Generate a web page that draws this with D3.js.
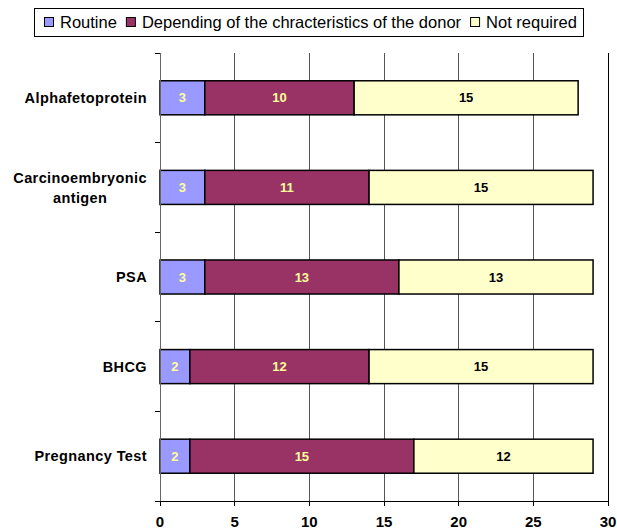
<!DOCTYPE html>
<html><head><meta charset="utf-8">
<script src="https://cdn.jsdelivr.net/npm/d3@7"></script>
<style>body{margin:0;background:#fff}svg{display:block}text{font-family:"Liberation Sans",Arial,sans-serif}</style>
</head><body><svg id="c" width="617" height="530"></svg>
<script>
const categories = ["Alphafetoprotein", "Carcinoembryonic antigen", "PSA", "BHCG", "Pregnancy Test"];
const seriesNames = ["Routine", "Depending of the chracteristics of the donor", "Not required"];
const routine = [3, 3, 3, 2, 2];
const depending = [10, 11, 13, 12, 15];
const notRequired = [15, 15, 13, 15, 12];
const xTicks = [0, 5, 10, 15, 20, 25, 30];
const colors = ["#9999FF", "#993366", "#FFFFCC"];
const labelColors = ["#FFFF99", "#FFFF99", "#000000"];

(function () {
const svg = d3.select("#c");
const pL = 160, pR = 608, pT = 53, pB = 501;
const x = d3.scaleLinear().domain([0, 30]).range([pL, pR]);
const y = d3.scaleBand().domain(categories).range([pT, pB]).paddingInner(0.62).paddingOuter(0.31);

// gridlines
svg.append("g").selectAll("line").data(xTicks.slice(1)).join("line")
  .attr("x1", d => x(d)).attr("x2", d => x(d)).attr("y1", pT).attr("y2", pB)
  .attr("stroke", d => d === 30 ? "#000" : "#555").attr("stroke-width", 1).attr("shape-rendering", "crispEdges");

// bars
const stackData = categories.map((c, i) => ({cat: c, Routine: routine[i], Dep: depending[i], Not: notRequired[i]}));
const stack = d3.stack().keys(["Routine", "Dep", "Not"])(stackData);
const g = svg.append("g");
stack.forEach((layer, li) => {
  g.selectAll(null).data(layer).join("rect")
    .attr("x", d => x(d[0])).attr("width", d => x(d[1]) - x(d[0]))
    .attr("y", d => y(d.data.cat)).attr("height", y.bandwidth())
    .attr("fill", colors[li]).attr("stroke", "#000").attr("stroke-width", 1.5);
  g.selectAll(null).data(layer).join("text")
    .attr("x", d => (x(d[0]) + x(d[1])) / 2).attr("y", d => y(d.data.cat) + y.bandwidth() / 2)
    .attr("dy", "0.36em").attr("text-anchor", "middle")
    .attr("font-size", 13).attr("font-weight", "bold").attr("fill", labelColors[li])
    .text(d => d[1] - d[0]);
});

// y axis
svg.append("line").attr("x1", pL).attr("x2", pL).attr("y1", pT).attr("y2", pB + 5).attr("stroke", "#666").attr("shape-rendering", "crispEdges");
const bandStep = (pB - pT) / categories.length;
svg.append("g").selectAll("line").data(d3.range(categories.length + 1)).join("line")
  .attr("x1", pL - 5).attr("x2", pL).attr("y1", i => pT + i * bandStep).attr("y2", i => pT + i * bandStep)
  .attr("stroke", "#000").attr("shape-rendering", "crispEdges");

// x axis
svg.append("line").attr("x1", pL - 5).attr("x2", pR).attr("y1", pB).attr("y2", pB).attr("stroke", "#000").attr("shape-rendering", "crispEdges");
svg.append("g").selectAll("line").data(xTicks).join("line")
  .attr("x1", d => x(d)).attr("x2", d => x(d)).attr("y1", pB).attr("y2", pB + 5)
  .attr("stroke", "#000").attr("shape-rendering", "crispEdges");
svg.append("g").selectAll("text").data(xTicks).join("text")
  .attr("x", d => x(d)).attr("y", 527).attr("text-anchor", "middle")
  .attr("font-size", 15).attr("font-weight", "bold").text(d => d);

// category labels
const labelRight = 147;
categories.forEach(c => {
  const cy = y(c) + y.bandwidth() / 2;
  const lines = c === "Carcinoembryonic antigen" ? ["Carcinoembryonic", "antigen"] : [c];
  const t = svg.append("text").attr("font-size", 14.5).attr("font-weight", "bold").attr("letter-spacing", 0.4).attr("text-anchor", "middle");
  lines.forEach(l => t.append("tspan").text(l));
  const spans = t.selectAll("tspan").nodes();
  const maxW = Math.max(...spans.map(s => s.getComputedTextLength()));
  const cx = labelRight - maxW / 2;
  const lh = 20;
  spans.forEach((s, i) => {
    d3.select(s).attr("x", cx).attr("y", cy + (i - (lines.length - 1) / 2) * lh).attr("dy", "0.36em");
  });
});

// legend
const lg = svg.append("g");
lg.append("rect").attr("x", 34.5).attr("y", 8.5).attr("width", 549).attr("height", 28).attr("fill", "#fff").attr("stroke", "#000");
let lx = 44;
seriesNames.forEach((n, i) => {
  lg.append("rect").attr("x", lx + 0.5).attr("y", 17.5).attr("width", 9).attr("height", 9).attr("fill", colors[i]).attr("stroke", "#000");
  const t = lg.append("text").attr("x", lx + 16).attr("y", 22).attr("dy", "0.36em").attr("font-size", 16.5).text(n);
  lx += 16 + t.node().getComputedTextLength() + 9;
});
})();
</script></body></html>
